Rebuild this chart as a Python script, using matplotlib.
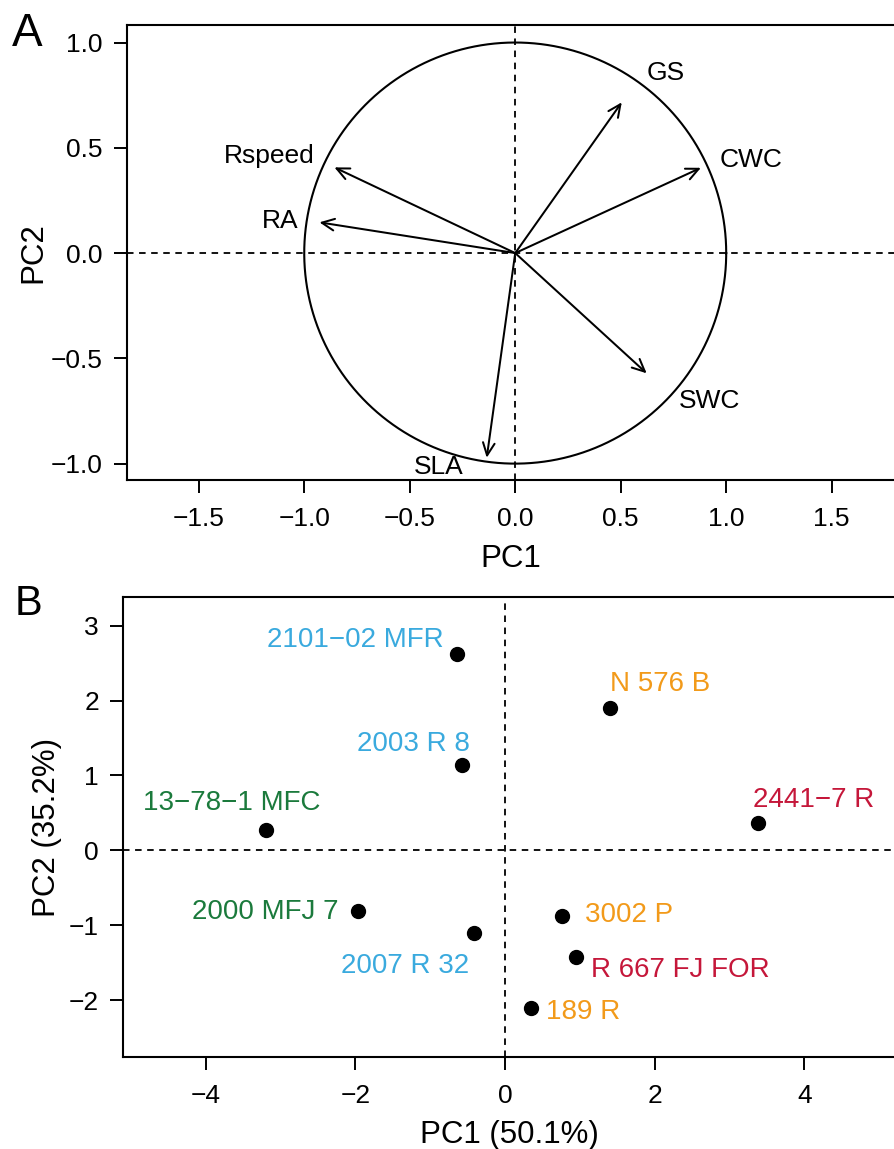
import matplotlib
matplotlib.use("Agg")
import matplotlib.pyplot as plt
import numpy as np

plt.rcParams['font.family'] = ['Liberation Sans', 'DejaVu Sans']
plt.rcParams['lines.scale_dashes'] = False

# Panel A: variable loadings (correlation circle)
variables = ['GS', 'CWC', 'Rspeed', 'RA', 'SWC', 'SLA']
load_pc1 = [0.505, 0.880, -0.857, -0.928, 0.623, -0.135]
load_pc2 = [0.716, 0.405, 0.407, 0.146, -0.571, -0.972]

# Panel B: genotype scores
genotypes = ['2101\u221202 MFR', 'N 576 B', '2003 R 8', '13\u221278\u22121 MFC', '2441\u22127 R',
             '2000 MFJ 7', '3002 P', '2007 R 32', 'R 667 FJ FOR', '189 R']
score_pc1 = [-0.64, 1.40, -0.57, -3.20, 3.38, -1.97, 0.765, -0.42, 0.95, 0.345]
score_pc2 = [2.62, 1.90, 1.14, 0.275, 0.37, -0.81, -0.877, -1.10, -1.43, -2.11]
groups = ['blue', 'orange', 'blue', 'green', 'red', 'green', 'orange', 'blue', 'red', 'orange']

group_colors = {'blue': '#3aaade', 'orange': '#f29a1a', 'red': '#c5173a', 'green': '#1b7a3c'}

# label offsets (pixels -> points), horizontal alignment
px = 0.72
arrow_label_off = {'GS': (44, 22), 'CWC': (50, 1), 'Rspeed': (-65.5, 4.6),
                   'RA': (-39, -5.4), 'SWC': (63, -35), 'SLA': (-48, -16.6)}
point_label_off = {
    '2101\u221202 MFR': (-14, 7, 'right'), 'N 576 B': (0, 16.6, 'left'),
    '2003 R 8': (7, 14.3, 'right'), '13\u221278\u22121 MFC': (-33.5, 19.3, 'center'),
    '2441\u22127 R': (-5, 16, 'left'), '2000 MFJ 7': (-18.7, -8.3, 'right'),
    '3002 P': (22.8, -5.7, 'left'), '2007 R 32': (-4.5, -40.6, 'right'),
    'R 667 FJ FOR': (14.9, -19.6, 'left'), '189 R': (15.4, -11, 'left'),
}

fig = plt.figure(figsize=(8.95, 11.49), dpi=100)
ax1 = fig.add_axes([0.1419, 0.5822, 0.8581, 0.3960])
ax2 = fig.add_axes([0.1378, 0.0798, 0.8622, 0.4003])

dash = (0, (4.7, 4.0))


def style_axes(ax):
    for side in ['left', 'bottom', 'top']:
        ax.spines[side].set_linewidth(1.5)
    ax.spines['right'].set_visible(False)
    ax.tick_params(direction='out', length=9.5, width=1.4, labelsize=19, pad=8)
    ax.tick_params(axis='x', pad=10)


# --- Panel A ---
theta = np.linspace(0, 2 * np.pi, 400)
ax1.plot(np.cos(theta), np.sin(theta), color='black', lw=1.5)
ax1.axhline(0, color='black', lw=1.3, ls=dash)
ax1.axvline(0, color='black', lw=1.3, ls=dash)
for name, x, y in zip(variables, load_pc1, load_pc2):
    ax1.annotate('', xy=(x, y), xytext=(0, 0),
                 arrowprops=dict(arrowstyle='->,head_length=0.9,head_width=0.42',
                                 mutation_scale=10, lw=1.45, color='black',
                                 shrinkA=0, shrinkB=0))
    dx, dy = arrow_label_off[name]
    ax1.annotate(name, xy=(x, y), xytext=(dx * px, dy * px), textcoords='offset points',
                 ha='center', va='baseline', fontsize=19)
ax1.set_xlim(-1.840, 1.800)
ax1.set_ylim(-1.078, 1.083)
ax1.set_xticks([-1.5, -1.0, -0.5, 0.0, 0.5, 1.0, 1.5])
ax1.set_yticks([-1.0, -0.5, 0.0, 0.5, 1.0])
ax1.set_xticklabels([f'{v:.1f}'.replace('-', '\u2212') for v in ax1.get_xticks()])
ax1.set_yticklabels([f'{v:.1f}'.replace('-', '\u2212') for v in ax1.get_yticks()])
style_axes(ax1)
ax1.set_xlabel('PC1', fontsize=22.5, labelpad=9)
ax1.set_ylabel('PC2', fontsize=22.5, labelpad=2)

# --- Panel B ---
ax2.axhline(0, color='black', lw=1.3, ls=dash)
ax2.axvline(0, color='black', lw=1.3, ls=dash)
ax2.plot(score_pc1, score_pc2, 'o', color='black', markersize=10, zorder=3)
for name, x, y, g in zip(genotypes, score_pc1, score_pc2, groups):
    dx, dy, ha = point_label_off[name]
    ax2.annotate(name, xy=(x, y), xytext=(dx * px, dy * px), textcoords='offset points',
                 ha=ha, va='baseline', fontsize=20, color=group_colors[g])
ax2.set_xlim(-5.103, 5.214)
ax2.set_ylim(-2.764, 3.378)
ax2.set_xticks([-4, -2, 0, 2, 4])
ax2.set_yticks([-2, -1, 0, 1, 2, 3])
ax2.set_xticklabels([str(v).replace('-', '\u2212') for v in [-4, -2, 0, 2, 4]])
ax2.set_yticklabels([str(v).replace('-', '\u2212') for v in [-2, -1, 0, 1, 2, 3]])
style_axes(ax2)
ax2.set_xlabel('PC1 (50.1%)', fontsize=22.5, labelpad=8)
ax2.set_ylabel('PC2 (35.2%)', fontsize=22.5, labelpad=5)

fig.text(12 / 895, 1 - 46 / 1149, 'A', fontsize=33, ha='left', va='baseline')
fig.text(15 / 895, 1 - 615 / 1149, 'B', fontsize=30, ha='left', va='baseline')

fig.savefig('out.png', dpi=100)
